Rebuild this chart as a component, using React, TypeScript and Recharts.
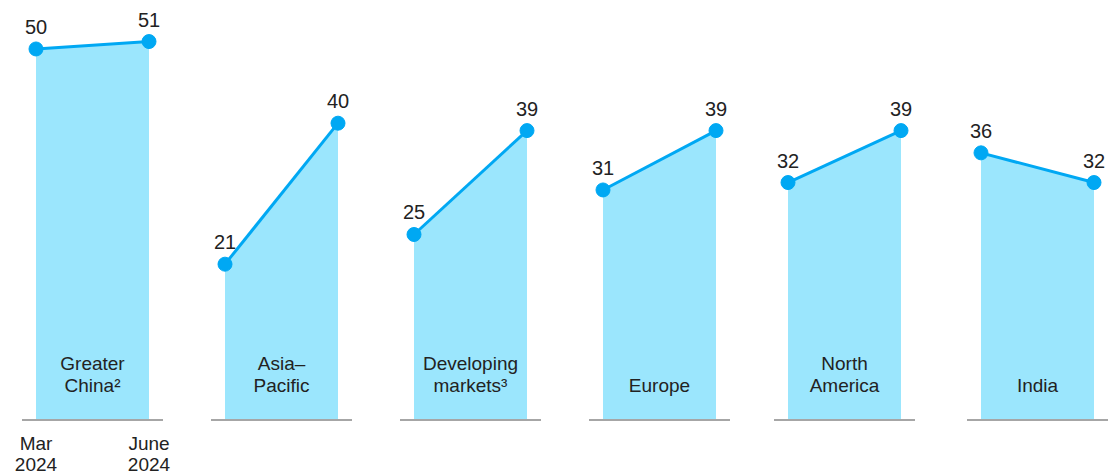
import React from "react";
import { AreaChart, Area, XAxis, YAxis, LabelList } from "recharts";

const periods = ["Mar 2024", "June 2024"];
const regions = ["Greater China²", "Asia–Pacific", "Developing markets³", "Europe", "North America", "India"];
const regionLines: string[][] = [
  ["Greater", "China²"],
  ["Asia–", "Pacific"],
  ["Developing", "markets³"],
  ["Europe"],
  ["North", "America"],
  ["India"],
];
const marValues = [50, 21, 25, 31, 32, 36];
const juneValues = [51, 40, 39, 39, 39, 32];

// layout (left edge of each panel's baseline)
const panelLefts = [22, 211, 400, 589, 774, 967];
const PANEL_W = 141;
const SIDE = 24;
const INSET = 14;
const H = 476;
const AXIS_H = 56;
const FONT = "'Liberation Sans', Arial, Helvetica, sans-serif";

const FILL = "#9be6fd";
const LINE = "#00a8f3";
const TEXT = "#222222";

const MarTick = (props: any) => {
  const { x, y, payload } = props;
  const parts = String(payload.value).split(" ");
  return (
    <text x={x} y={y} textAnchor="middle" fontFamily={FONT} fontSize={19} fill={TEXT}>
      <tspan x={x} dy={22}>{parts[0]}</tspan>
      <tspan x={x} dy={21}>{parts[1]}</tspan>
    </text>
  );
};

const Panel = ({ idx }: { idx: number }) => {
  const data = periods.map((p, i) => ({
    period: p,
    value: i === 0 ? marValues[idx] : juneValues[idx],
  }));
  const lines = regionLines[idx];
  return (
    <>
      <div style={{ position: "absolute", left: panelLefts[idx] - SIDE, top: 0, width: PANEL_W + 2 * SIDE, height: H }}>
        <AreaChart width={PANEL_W + 2 * SIDE} height={H} data={data} margin={{ top: 0, right: SIDE, bottom: 0, left: SIDE }}>
          <XAxis
            dataKey="period"
            height={AXIS_H}
            padding={{ left: INSET, right: INSET }}
            axisLine={{ stroke: "#a6a6a6", strokeWidth: 2 }}
            tickLine={false}
            interval={0}
            tick={idx === 0 ? <MarTick /> : false}
          />
          <YAxis hide domain={[0, 56.6]} />
          <Area
            type="linear"
            dataKey="value"
            stroke={LINE}
            strokeWidth={3}
            fill={FILL}
            fillOpacity={1}
            dot={{ r: 7, fill: LINE, stroke: LINE, strokeWidth: 1 }}
            activeDot={false}
            isAnimationActive={false}
          >
            <LabelList
              dataKey="value"
              position="top"
              offset={15}
              fontFamily={FONT}
              fontSize={20}
              fill={TEXT}
            />
          </Area>
        </AreaChart>
      </div>
      <div
        style={{
          position: "absolute",
          left: panelLefts[idx],
          width: PANEL_W,
          top: lines.length === 2 ? 353 : 375,
          textAlign: "center",
          fontFamily: FONT,
          fontSize: 19,
          lineHeight: "22px",
          color: TEXT,
        }}
      >
        {lines.map((l, i) => (
          <div key={i}>{l}</div>
        ))}
      </div>
    </>
  );
};

export default function App() {
  return (
    <div style={{ position: "absolute", left: 0, top: 0, width: 1108, height: H, background: "#fff", overflow: "hidden" }}>
      {regions.map((_, i) => (
        <Panel key={i} idx={i} />
      ))}
    </div>
  );
}
